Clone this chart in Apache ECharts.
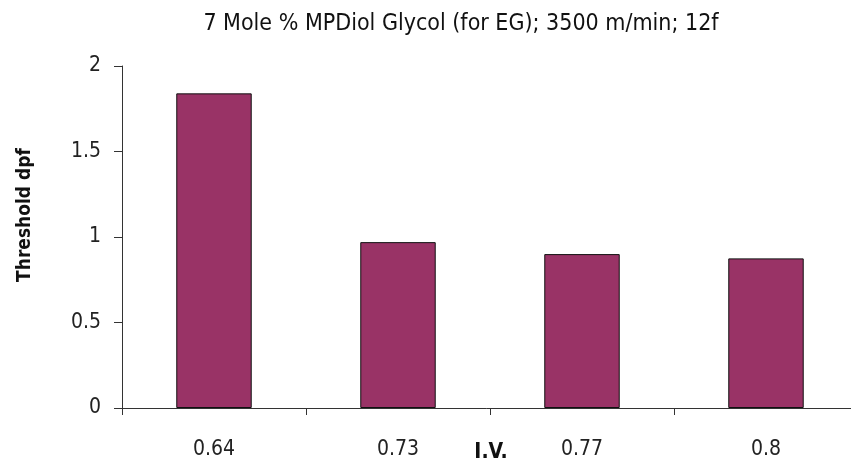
<!DOCTYPE html>
<html>
<head>
<meta charset="utf-8">
<script src="https://cdn.jsdelivr.net/npm/echarts@6/dist/echarts.min.js"></script>
<style>
  html, body { margin: 0; padding: 0; background: #fff; }
  #chart { width: 851px; height: 465px; }
</style>
</head>
<body>
<div id="chart"></div>
<script>
const categories = ["0.64", "0.73", "0.77", "0.8"];
const thresholdValues = [1.84, 0.97, 0.90, 0.875];
const yTicks = [0, 0.5, 1, 1.5, 2];

const font = "'DejaVu Sans Condensed', 'DejaVu Sans', sans-serif";
const chart = echarts.init(document.getElementById("chart"));
chart.setOption({
  animation: false,
  title: {
    text: "7 Mole % MPDiol Glycol (for EG); 3500 m/min; 12f",
    left: 456,
    top: 8,
    textAlign: "center",
    textStyle: { fontFamily: font, fontSize: 23, fontWeight: "normal", color: "#111" }
  },
  grid: { left: 122, right: -7, top: 66, bottom: 57, outerBoundsMode: "none", containLabel: false },
  xAxis: {
    type: "category",
    data: categories,
    name: "I.V.",
    nameLocation: "middle",
    nameGap: 34,
    nameMoveOverlap: false,
    nameTextStyle: { fontFamily: font, fontSize: 21, fontWeight: "bold", color: "#111", padding: [0, 0, 0, 2] },
    axisLine: { lineStyle: { color: "#333", width: 1 } },
    axisTick: { show: true, length: 7, alignWithLabel: false, lineStyle: { color: "#333" } },
    axisLabel: { margin: 31, fontFamily: font, fontSize: 21, color: "#222" }
  },
  yAxis: {
    type: "value",
    min: yTicks[0],
    max: yTicks[yTicks.length - 1],
    interval: 0.5,
    name: "Threshold dpf",
    nameLocation: "middle",
    nameGap: 87,
    nameMoveOverlap: false,
    nameTextStyle: { fontFamily: font, fontSize: 19, fontWeight: "bold", color: "#111", padding: [0, 0, 0, 44] },
    axisLine: { show: true, lineStyle: { color: "#333", width: 1 } },
    axisTick: { show: true, length: 8, lineStyle: { color: "#333" } },
    axisLabel: { margin: 21, fontFamily: font, fontSize: 21, color: "#222" },
    splitLine: { show: false }
  },
  series: [{
    type: "bar",
    data: thresholdValues,
    barWidth: "41%",
    itemStyle: { color: "#993366", borderColor: "#111", borderWidth: 1 }
  }]
});
</script>
</body>
</html>
